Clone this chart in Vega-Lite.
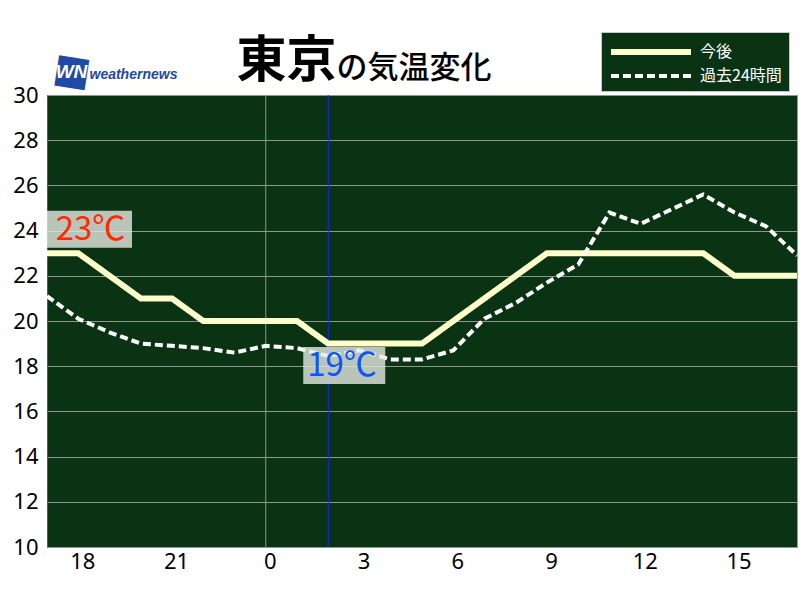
{
  "$schema": "https://vega.github.io/schema/vega-lite/v6.json",
  "width": 750,
  "height": 452,
  "autosize": {"type": "none"},
  "padding": {"left": 47, "top": 95, "right": 3, "bottom": 53},
  "background": "#ffffff",
  "config": {
    "view": {"fill": "#0a3314", "stroke": "#9a9a9a", "strokeWidth": 1},
    "font": "Noto Sans CJK JP"
  },
  "datasets": {
    "series": [
      {"h": 17, "t": 23, "s": "今後"}, {"h": 18, "t": 23, "s": "今後"}, {"h": 19, "t": 22, "s": "今後"},
      {"h": 20, "t": 21, "s": "今後"}, {"h": 21, "t": 21, "s": "今後"}, {"h": 22, "t": 20, "s": "今後"},
      {"h": 23, "t": 20, "s": "今後"}, {"h": 24, "t": 20, "s": "今後"}, {"h": 25, "t": 20, "s": "今後"},
      {"h": 26, "t": 19, "s": "今後"}, {"h": 27, "t": 19, "s": "今後"}, {"h": 28, "t": 19, "s": "今後"},
      {"h": 29, "t": 19, "s": "今後"}, {"h": 30, "t": 20, "s": "今後"}, {"h": 31, "t": 21, "s": "今後"},
      {"h": 32, "t": 22, "s": "今後"}, {"h": 33, "t": 23, "s": "今後"}, {"h": 34, "t": 23, "s": "今後"},
      {"h": 35, "t": 23, "s": "今後"}, {"h": 36, "t": 23, "s": "今後"}, {"h": 37, "t": 23, "s": "今後"},
      {"h": 38, "t": 23, "s": "今後"}, {"h": 39, "t": 22, "s": "今後"}, {"h": 40, "t": 22, "s": "今後"},
      {"h": 41, "t": 22, "s": "今後"},
      {"h": 17, "t": 21.1, "s": "過去24時間"}, {"h": 18, "t": 20.1, "s": "過去24時間"}, {"h": 19, "t": 19.5, "s": "過去24時間"},
      {"h": 20, "t": 19.0, "s": "過去24時間"}, {"h": 21, "t": 18.9, "s": "過去24時間"}, {"h": 22, "t": 18.8, "s": "過去24時間"},
      {"h": 23, "t": 18.6, "s": "過去24時間"}, {"h": 24, "t": 18.9, "s": "過去24時間"}, {"h": 25, "t": 18.8, "s": "過去24時間"},
      {"h": 26, "t": 18.45, "s": "過去24時間"}, {"h": 27, "t": 18.7, "s": "過去24時間"}, {"h": 28, "t": 18.3, "s": "過去24時間"},
      {"h": 29, "t": 18.3, "s": "過去24時間"}, {"h": 30, "t": 18.7, "s": "過去24時間"}, {"h": 31, "t": 20.1, "s": "過去24時間"},
      {"h": 32, "t": 20.8, "s": "過去24時間"}, {"h": 33, "t": 21.7, "s": "過去24時間"}, {"h": 34, "t": 22.5, "s": "過去24時間"},
      {"h": 35, "t": 24.8, "s": "過去24時間"}, {"h": 36, "t": 24.3, "s": "過去24時間"}, {"h": 37, "t": 24.95, "s": "過去24時間"},
      {"h": 38, "t": 25.6, "s": "過去24時間"}, {"h": 39, "t": 24.8, "s": "過去24時間"}, {"h": 40, "t": 24.2, "s": "過去24時間"},
      {"h": 41, "t": 22.9, "s": "過去24時間"}
    ],
    "rules": [
      {"h": 24, "kind": "grid"},
      {"h": 26, "kind": "now"}
    ],
    "labels": [
      {"h": 17, "t": 23, "label": "23℃", "kind": "max"},
      {"h": 26, "t": 19, "label": "19℃", "kind": "min"}
    ]
  },
  "layer": [
    {
      "data": {"name": "rules"},
      "transform": [{"filter": "datum.kind === 'grid'"}],
      "mark": {"type": "rule", "color": "#8e968e", "strokeWidth": 1},
      "encoding": {
        "x": {
          "field": "h", "type": "quantitative",
          "scale": {"domain": [17, 41], "nice": false, "zero": false},
          "axis": {
            "orient": "top", "labels": false, "ticks": false, "domain": false, "grid": false,
            "title": "■", "titleFont": "DejaVu Sans", "titleFontSize": 40, "titleFontWeight": "normal",
            "titleColor": "#1f4ba5", "titleX": 24.5, "titleY": -24.5, "titleAlign": "center",
            "titleBaseline": "middle", "titleAngle": 9
          }
        }
      }
    },
    {
      "data": {"name": "rules"},
      "transform": [{"filter": "datum.kind === 'now'"}],
      "mark": {"type": "rule", "color": "#1428ff", "strokeWidth": 1},
      "encoding": {
        "x": {"field": "h", "type": "quantitative", "axis": null}
      }
    },
    {
      "data": {"name": "series"},
      "mark": {"type": "line", "strokeJoin": "miter"},
      "encoding": {
        "x": {
          "field": "h", "type": "quantitative",
          "axis": {
            "orient": "bottom",
            "values": [18, 21, 24, 27, 30, 33, 36, 39],
            "labelExpr": "toString(datum.value % 24)",
            "labelFont": "Noto Sans", "labelFontSize": 22, "labelColor": "#000000",
            "labelPadding": 4, "labelOffset": 4,
            "ticks": false, "domain": false, "grid": false,
            "title": "weathernews", "titleFont": "Liberation Sans", "titleFontStyle": "italic",
            "titleFontWeight": "bold", "titleFontSize": 14, "titleColor": "#22499d",
            "titleX": 42, "titleY": -469, "titleAlign": "left", "titleBaseline": "alphabetic"
          }
        },
        "y": {
          "field": "t", "type": "quantitative",
          "scale": {"domain": [10, 30], "nice": false, "zero": false},
          "axis": {
            "values": [10, 12, 14, 16, 18, 20, 22, 24, 26, 28, 30],
            "labelFont": "Noto Sans", "labelFontSize": 22, "labelColor": "#000000", "labelPadding": 9,
            "ticks": false, "domain": true, "domainColor": "#e02020", "domainWidth": 1,
            "grid": true, "gridColor": "#8e968e", "gridWidth": 1,
            "title": "の気温変化", "titleAngle": 0, "titleX": 289, "titleY": -18,
            "titleAlign": "left", "titleBaseline": "alphabetic", "titleFontSize": 31,
            "titleFontWeight": 500, "titleColor": "#000000", "titleFont": "Noto Sans CJK JP"
          }
        },
        "color": {
          "field": "s", "type": "nominal",
          "scale": {"domain": ["今後", "過去24時間"], "range": ["#ffffcc", "#ffffff"]},
          "legend": {
            "title": null, "orient": "none", "legendX": 554, "legendY": -63,
            "fillColor": "#0a3314", "strokeColor": "#c8c8c8", "padding": 7,
            "symbolType": "M-4,0H4", "symbolSize": 400, "symbolOffset": 30,
            "labelColor": "#ffffff", "labelFontSize": 16, "labelFont": "Noto Sans CJK JP",
            "rowPadding": 0, "labelOffset": 36
          }
        },
        "strokeDash": {
          "field": "s", "type": "nominal",
          "scale": {"domain": ["今後", "過去24時間"], "range": [[1, 0], [8, 4]]},
          "legend": {
            "title": null, "orient": "none", "legendX": 554, "legendY": -63,
            "fillColor": "#0a3314", "strokeColor": "#c8c8c8", "padding": 7,
            "symbolType": "M-4,0H4", "symbolSize": 400, "symbolOffset": 30,
            "labelColor": "#ffffff", "labelFontSize": 16, "labelFont": "Noto Sans CJK JP",
            "rowPadding": 0, "labelOffset": 36
          }
        },
        "strokeWidth": {
          "field": "s", "type": "nominal",
          "scale": {"domain": ["今後", "過去24時間"], "range": [6, 4]},
          "legend": {
            "title": null, "orient": "none", "legendX": 554, "legendY": -63,
            "fillColor": "#0a3314", "strokeColor": "#c8c8c8", "padding": 7,
            "symbolType": "M-4,0H4", "symbolSize": 400, "symbolOffset": 30,
            "labelColor": "#ffffff", "labelFontSize": 16, "labelFont": "Noto Sans CJK JP",
            "rowPadding": 0, "labelOffset": 36
          }
        }
      }
    },
    {
      "data": {"name": "labels"},
      "transform": [{"filter": "datum.kind === 'max'"}],
      "mark": {"type": "rect", "width": 85, "height": 37, "xOffset": 42.5, "yOffset": -24, "fill": "#e6eae4", "opacity": 0.8},
      "encoding": {
        "x": {"field": "h", "type": "quantitative", "axis": null},
        "y": {
          "field": "t", "type": "quantitative",
          "axis": {
            "orient": "right", "labels": false, "ticks": false, "domain": false, "grid": false,
            "title": "WN", "titleAngle": 0, "titleX": -726, "titleY": -24, "titleAlign": "center",
            "titleBaseline": "middle", "titleColor": "#ffffff", "titleFontSize": 19,
            "titleFontWeight": "bold", "titleFontStyle": "italic", "titleFont": "Liberation Sans", "zindex": 1
          }
        }
      }
    },
    {
      "data": {"name": "labels"},
      "transform": [{"filter": "datum.kind === 'min'"}],
      "mark": {"type": "rect", "width": 82, "height": 37, "xOffset": 16, "yOffset": 22, "fill": "#e6eae4", "opacity": 0.8},
      "encoding": {
        "x": {"field": "h", "type": "quantitative", "axis": null},
        "y": {"field": "t", "type": "quantitative", "axis": null}
      }
    },
    {
      "data": {"name": "labels"},
      "transform": [{"filter": "datum.kind === 'max'"}],
      "mark": {"type": "text", "align": "center", "baseline": "middle", "dx": 43.5, "dy": -23.6, "fontSize": 33, "font": "Noto Sans CJK JP", "color": "#ff2a00"},
      "encoding": {
        "x": {"field": "h", "type": "quantitative", "axis": null},
        "y": {"field": "t", "type": "quantitative", "axis": null},
        "text": {"field": "label"}
      }
    },
    {
      "data": {"name": "labels"},
      "transform": [{"filter": "datum.kind === 'min'"}],
      "mark": {"type": "text", "align": "center", "baseline": "middle", "dx": 13.7, "dy": 22.4, "fontSize": 33, "font": "Noto Sans CJK JP", "color": "#0d55f5"},
      "encoding": {
        "x": {
          "field": "h", "type": "quantitative",
          "axis": {
            "orient": "top", "labels": false, "ticks": false, "domain": false, "grid": false,
            "title": "東京", "titleX": 189, "titleY": -19, "titleAlign": "left",
            "titleBaseline": "alphabetic", "titleFontSize": 50, "titleFontWeight": "bold",
            "titleColor": "#000000", "titleFont": "Noto Sans CJK JP"
          }
        },
        "y": {"field": "t", "type": "quantitative", "axis": null},
        "text": {"field": "label"}
      }
    }
  ],
  "resolve": {"axis": {"x": "independent", "y": "independent"}}
}
